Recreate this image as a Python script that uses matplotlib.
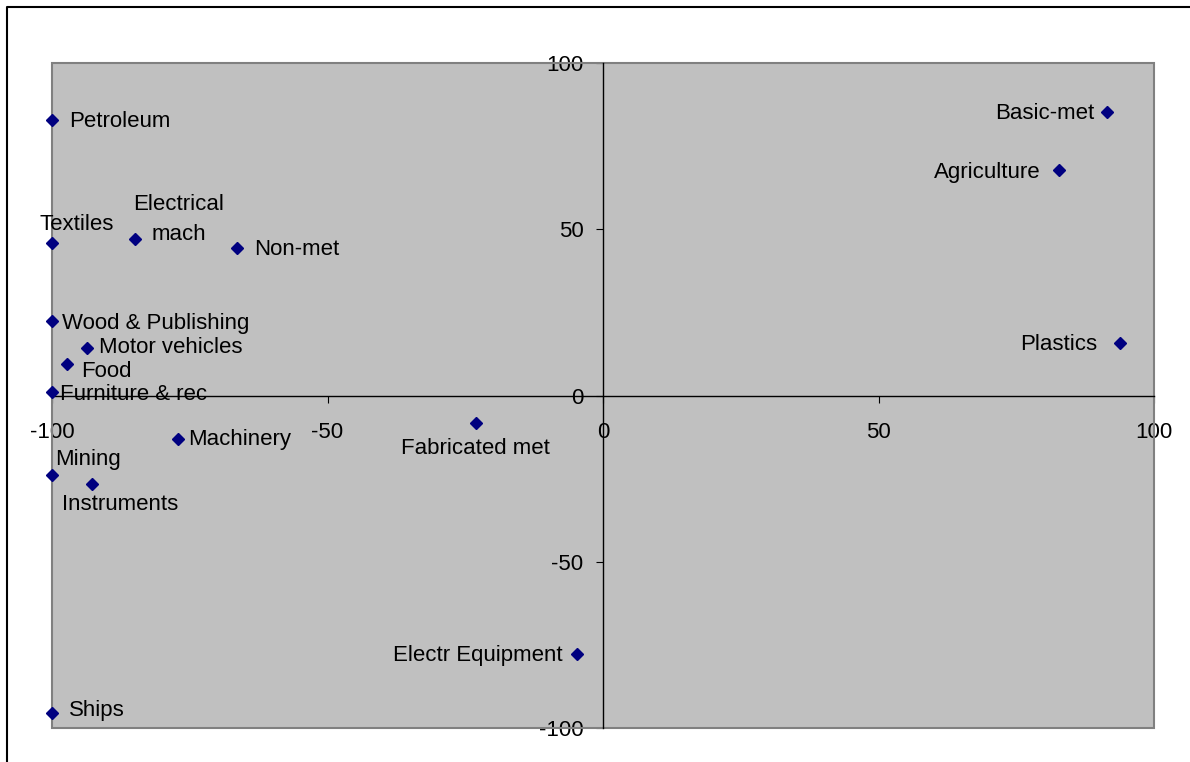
import matplotlib
matplotlib.use('Agg')
import matplotlib.pyplot as plt
from matplotlib.patches import Rectangle
from matplotlib.lines import Line2D

plt.rcParams['font.family'] = ['Liberation Sans', 'DejaVu Sans']
plt.rcParams['axes.unicode_minus'] = False

# industry positions
industries = ['Petroleum', 'Textiles', 'Electrical\nmach', 'Non-met',
              'Wood & Publishing', 'Motor vehicles', 'Food', 'Furniture & rec',
              'Machinery', 'Mining', 'Instruments', 'Fabricated met',
              'Electr Equipment', 'Ships', 'Basic-met', 'Agriculture', 'Plastics']
x_vals = [-100, -100, -85, -66.5, -100, -93.7, -97.2, -100,
          -77.2, -100, -92.8, -23.1, -4.8, -100, 91.4, 82.7, 93.8]
y_vals = [83, 46, 47.1, 44.4, 22.4, 14.3, 9.5, 1.0,
          -13.1, -24, -26.6, -8.3, -77.7, -95.5, 85.3, 67.8, 15.8]

# label offsets in pixels and alignment
offsets = [(17, -2, 'left'), (-13, 18, 'left'), (44, 19, 'center'), (18, -2, 'left'),
           (10, -2, 'left'), (12, 0, 'left'), (14, -8, 'left'), (8, -2, 'left'),
           (10, 0, 'left'), (3, 16, 'left'), (-30, -21, 'left'), (0, -25, 'center'),
           (-14, -2, 'right'), (17, 3, 'left'), (-12, -2, 'right'), (-18, -2, 'right'),
           (-23, -2, 'right')]

ticks = [-100, -50, 0, 50, 100]
fs = 16

fig = plt.figure(figsize=(11.9, 7.62), dpi=100)
ax = fig.add_axes([52/1190, 1 - 728/762, 1102/1190, 665/762])
ax.set_facecolor('#c0c0c0')
ax.set_xlim(-100, 100)
ax.set_ylim(-100, 100)

ax.plot(x_vals, y_vals, linestyle='none', marker='D', markersize=6,
        color='#000080', zorder=5, clip_on=False)

for name, x, y, (dx, dy, ha) in zip(industries, x_vals, y_vals, offsets):
    ax.annotate(name, (x, y), xytext=(dx, dy), textcoords='offset pixels',
                ha=ha, va='center', fontsize=fs, color='black',
                linespacing=1.55, zorder=6)

# axes through the origin
ax.spines['left'].set_position('zero')
ax.spines['bottom'].set_position('zero')
ax.spines['top'].set_visible(False)
ax.spines['right'].set_visible(False)
for s in ['left', 'bottom']:
    ax.spines[s].set_color('black')
    ax.spines[s].set_linewidth(1)
ax.spines['left'].set_zorder(3)
ax.spines['bottom'].set_zorder(3)

ax.set_xticks(ticks)
ax.set_yticks(ticks)
ax.tick_params(axis='x', direction='out', length=5, pad=14, labelsize=fs)
ax.tick_params(axis='y', direction='out', length=5, pad=9, labelsize=fs)

# grey frame around the plot area
ax.add_patch(Rectangle((0, 0), 1, 1, transform=ax.transAxes, fill=False,
                       edgecolor='#808080', linewidth=1.5, zorder=2, clip_on=False))

# outer chart border
fx = 7 / 1190
fy = 1 - 7 / 762
fig.add_artist(Line2D([fx, fx, 1], [0, fy, fy], color='black', linewidth=1.5,
                      transform=fig.transFigure))

fig.savefig('out.png', dpi=100)
